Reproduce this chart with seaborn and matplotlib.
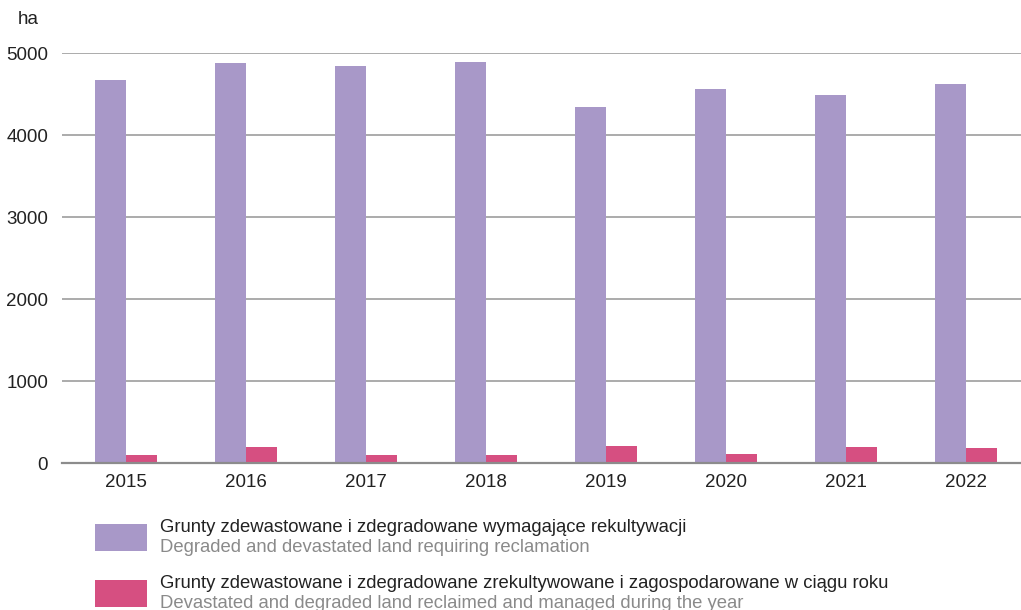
import matplotlib
matplotlib.use("Agg")
import matplotlib.pyplot as plt
import seaborn as sns
import pandas as pd
from matplotlib.patches import Rectangle

years = ["2015", "2016", "2017", "2018", "2019", "2020", "2021", "2022"]
requiring = [4670, 4880, 4840, 4890, 4340, 4560, 4490, 4620]
reclaimed = [100, 195, 100, 100, 207, 110, 195, 183]

series_pl = ["Grunty zdewastowane i zdegradowane wymagające rekultywacji",
             "Grunty zdewastowane i zdegradowane zrekultywowane i zagospodarowane w ciągu roku"]
series_en = ["Degraded and devastated land requiring reclamation",
             "Devastated and degraded land reclaimed and managed during the year"]
colors = ["#A898C8", "#D64F81"]
y_ticks = [0, 1000, 2000, 3000, 4000, 5000]
unit = "ha"

df = pd.DataFrame({
    "year": years * 2,
    "value": requiring + reclaimed,
    "series": [series_pl[0]] * len(years) + [series_pl[1]] * len(years),
})

sns.set_theme(style="white")
plt.rcParams["font.family"] = ["Liberation Sans", "DejaVu Sans"]

fig = plt.figure(figsize=(10.21, 6.10), dpi=100)
ax = fig.add_axes([62 / 1021, 1 - 463 / 610, 1 - 62 / 1021, (463 - 53) / 610])

sns.barplot(data=df, x="year", y="value", hue="series", hue_order=series_pl,
            palette=colors, width=0.517, gap=0, saturation=1, legend=False,
            ax=ax, zorder=3)
for p in ax.patches:
    p.set_linewidth(0)

ax.set_xlim(-0.533, 7.458)
ax.set_ylim(0, 5000)
ax.set_yticks(y_ticks)
ax.set_yticklabels([str(t) for t in y_ticks])
ax.set_xlabel("")
ax.set_ylabel("")
for t in y_ticks[1:]:
    ax.axhline(t, color="#ababab", lw=1.4, zorder=1)
for s in ["top", "right", "left"]:
    ax.spines[s].set_visible(False)
ax.spines["bottom"].set_color("#8c8c8c")
ax.spines["bottom"].set_linewidth(1.6)
ax.spines["bottom"].set_zorder(4)
ax.tick_params(axis="both", length=0, labelsize=13.5, colors="#222222")
ax.tick_params(axis="y", pad=10)
ax.tick_params(axis="x", pad=8)

fig.text(18 / 1021, 1 - 20 / 610, unit, fontsize=13.5, color="#222222",
         ha="left", va="center")

# legend drawn at figure level: swatch plus two-language description
legend_rows = [524, 580]
for i, top in enumerate(legend_rows):
    fig.patches.append(Rectangle((95 / 1021, 1 - (top + 27) / 610), 52 / 1021, 27 / 610,
                                 transform=fig.transFigure, facecolor=colors[i],
                                 edgecolor="none"))
    fig.text(160 / 1021, 1 - (top + 4) / 610, series_pl[i], fontsize=13.3,
             color="#222222", ha="left", va="center")
    fig.text(160 / 1021, 1 - (top + 24) / 610, series_en[i], fontsize=13.3,
             color="#8a8a8a", ha="left", va="center")

fig.savefig("out.png", dpi=100)
